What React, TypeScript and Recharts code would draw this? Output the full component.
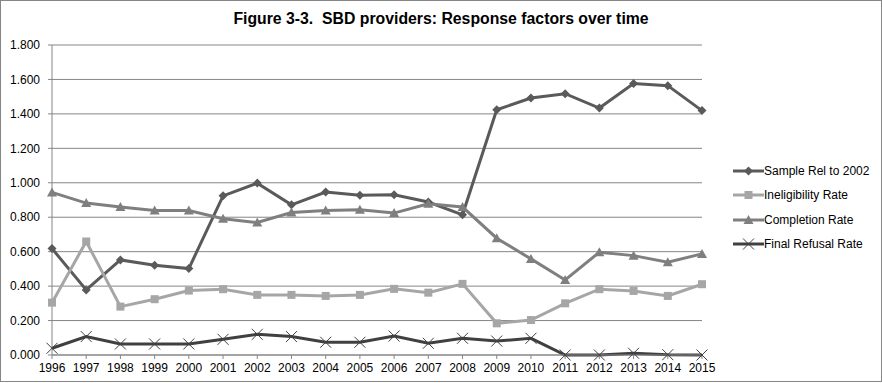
import React from 'react';
import { LineChart, Line, XAxis, YAxis, CartesianGrid, Legend } from 'recharts';

const years = ['1996', '1997', '1998', '1999', '2000', '2001', '2002', '2003', '2004', '2005',
    '2006', '2007', '2008', '2009', '2010', '2011', '2012', '2013', '2014', '2015'];

const sampleRel = [0.618, 0.378, 0.552, 0.521, 0.502, 0.924, 0.998, 0.872, 0.946, 0.928,
    0.93, 0.888, 0.814, 1.424, 1.492, 1.517, 1.434, 1.576, 1.564, 1.419];
const ineligibility = [0.304, 0.659, 0.281, 0.324, 0.374, 0.382, 0.349, 0.349, 0.343, 0.349,
    0.384, 0.362, 0.413, 0.184, 0.203, 0.300, 0.382, 0.372, 0.343, 0.411];
const completion = [0.944, 0.882, 0.859, 0.839, 0.839, 0.791, 0.769, 0.827, 0.839, 0.843,
    0.824, 0.878, 0.859, 0.678, 0.558, 0.436, 0.597, 0.577, 0.539, 0.587];
const finalRefusal = [0.039, 0.107, 0.064, 0.064, 0.064, 0.091, 0.120, 0.107, 0.074, 0.074,
    0.110, 0.068, 0.097, 0.081, 0.097, 0, 0, 0.01, 0.002, 0];

const yTicks = [0, 0.2, 0.4, 0.6, 0.8, 1.0, 1.2, 1.4, 1.6, 1.8];

const data = years.map((year, i) => ({
    year,
    sample: sampleRel[i],
    inelig: ineligibility[i],
    completion: completion[i],
    refusal: finalRefusal[i],
}));

const C_SAMPLE = '#5a5a5a';
const C_INELIG = '#a6a6a6';
const C_COMPL = '#7f7f7f';
const C_REFUSAL = '#404040';

const GRID = '#868686';
const FONT = '"Liberation Sans", Arial, sans-serif';

const drawMarker = (shape: string, cx: number, cy: number, color: string) => {
    if (shape === 'diamond') {
        const r = 4.5;
        return <path d={`M${cx},${cy - r}L${cx + r},${cy}L${cx},${cy + r}L${cx - r},${cy}Z`} fill={color} />;
    }
    if (shape === 'square') {
        const r = 4;
        return <rect x={cx - r} y={cy - r} width={r * 2} height={r * 2} fill={color} />;
    }
    if (shape === 'triangle') {
        const r = 5;
        return <path d={`M${cx},${cy - r}L${cx + r},${cy + r * 0.8}L${cx - r},${cy + r * 0.8}Z`} fill={color} />;
    }
    // x marker
    const r = 5.5;
    return (
        <path d={`M${cx - r},${cy - r}L${cx + r},${cy + r}M${cx + r},${cy - r}L${cx - r},${cy + r}`}
            stroke={color} strokeWidth={1} fill="none" />
    );
};

const makeDot = (shape: string, color: string) => (props: any) => {
    const { cx, cy, index } = props;
    if (cx == null || cy == null) return <g key={`d-${index}`} />;
    return <g key={`d-${shape}-${index}`}>{drawMarker(shape, cx, cy, color)}</g>;
};

const legendItems = [
    { label: 'Sample Rel to 2002', shape: 'diamond', color: C_SAMPLE },
    { label: 'Ineligibility Rate', shape: 'square', color: C_INELIG },
    { label: 'Completion Rate', shape: 'triangle', color: C_COMPL },
    { label: 'Final Refusal Rate', shape: 'x', color: C_REFUSAL },
];

const LegendBox = () => (
    <div style={{ fontFamily: FONT, fontSize: 12, color: '#000' }}>
        {legendItems.map(item => (
            <div key={item.label} style={{ height: 24.3, display: 'flex', alignItems: 'center' }}>
                <svg width={31} height={12}>
                    <line x1={0} y1={6} x2={31} y2={6} stroke={item.color} strokeWidth={3} />
                    {drawMarker(item.shape, 15.5, 6, item.color)}
                </svg>
                <span>{item.label}</span>
            </div>
        ))}
    </div>
);

const App: React.FC = () => {
    return (
        <div style={{
            position: 'absolute', left: 0, top: 0, width: 882, height: 382,
            boxSizing: 'border-box', border: '1px solid #868686', background: '#fff',
        }}>
            <div style={{
                position: 'absolute', left: 0, width: 880, top: 9, textAlign: 'center',
                fontFamily: FONT, fontWeight: 'bold', fontSize: 15.8, color: '#000',
            }}>
                Figure 3-3.&nbsp; SBD providers: Response factors over time
            </div>
            <div style={{ position: 'absolute', left: -1, top: -1 }}>
                <LineChart width={882} height={383} data={data}
                    margin={{ top: 45, right: 180, bottom: 3, left: 8 }}>
                    <CartesianGrid horizontal vertical={false} stroke={GRID} strokeWidth={1} />
                    <XAxis dataKey="year" interval={0} padding={{ left: 0, right: 0 }}
                        height={25} stroke={GRID} tickSize={4} tickMargin={4}
                        tick={{ fill: '#000', fontSize: 12, fontFamily: FONT }} />
                    <YAxis domain={[0, 1.8]} ticks={yTicks} width={44} stroke={GRID}
                        tickSize={4} tickMargin={8} interval={0}
                        tickFormatter={(v: number) => v.toFixed(3)}
                        tick={{ fill: '#000', fontSize: 12, fontFamily: FONT }} />
                    <Legend layout="vertical" align="center" verticalAlign="middle"
                        wrapperStyle={{ left: 733, top: 159, width: 150, height: 100 }}
                        content={() => <LegendBox />} />
                    <Line dataKey="sample" stroke={C_SAMPLE} strokeWidth={3}
                        dot={makeDot('diamond', C_SAMPLE)} isAnimationActive={false} />
                    <Line dataKey="inelig" stroke={C_INELIG} strokeWidth={3}
                        dot={makeDot('square', C_INELIG)} isAnimationActive={false} />
                    <Line dataKey="completion" stroke={C_COMPL} strokeWidth={3}
                        dot={makeDot('triangle', C_COMPL)} isAnimationActive={false} />
                    <Line dataKey="refusal" stroke={C_REFUSAL} strokeWidth={3}
                        dot={makeDot('x', C_REFUSAL)} isAnimationActive={false} />
                </LineChart>
            </div>
        </div>
    );
};

export default App;
